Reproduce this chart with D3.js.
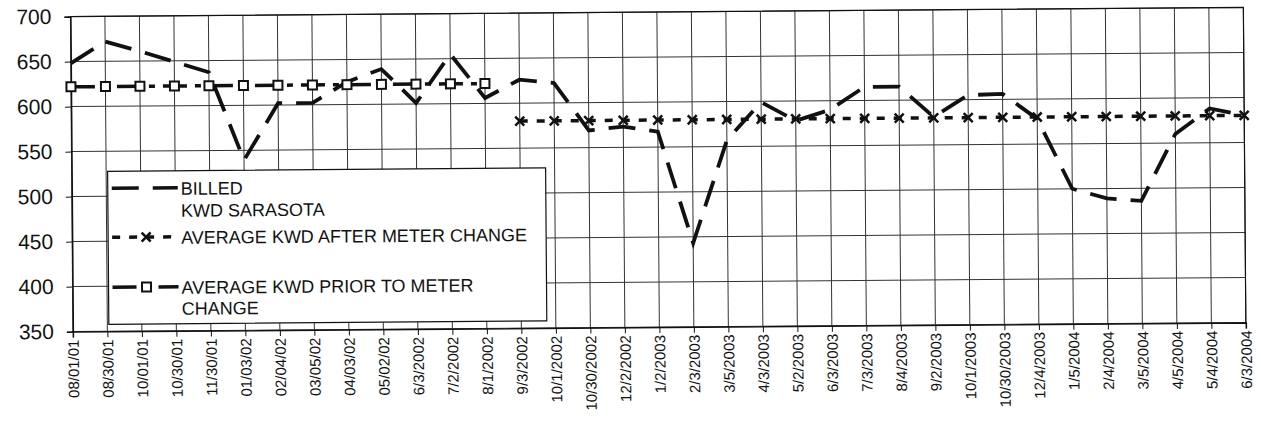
<!DOCTYPE html>
<html>
<head>
<meta charset="utf-8">
<script src="https://cdn.jsdelivr.net/npm/d3@7"></script>
<style>
  html, body { margin: 0; padding: 0; background: #fff; }
  svg { display: block; font-family: "Liberation Sans", Arial, sans-serif; }
</style>
</head>
<body>
<svg id="chart" width="1261" height="436"></svg>
<script>
// Billing dates (x categories)
const categories = [
  "08/01/01", "08/30/01", "10/01/01", "10/30/01", "11/30/01", "01/03/02",
  "02/04/02", "03/05/02", "04/03/02", "05/02/02", "6/3/2002", "7/2/2002",
  "8/1/2002", "9/3/2002", "10/1/2002", "10/30/2002", "12/2/2002", "1/2/2003",
  "2/3/2003", "3/5/2003", "4/3/2003", "5/2/2003", "6/3/2003", "7/3/2003",
  "8/4/2003", "9/2/2003", "10/1/2003", "10/30/2003", "12/4/2003", "1/5/2004",
  "2/4/2004", "3/5/2004", "4/5/2004", "5/4/2004", "6/3/2004"
];

// Billed KWD, Sarasota
const billedKwd = [
  648, 672, 661, 649, 637, 539, 602, 602, 625, 639, 601, 655,
  606, 626, 622, 569, 573, 567, 443, 557, 599, 578, 590, 615,
  615, 581, 605, 606, 578, 500, 489, 486, 560, 588, 580
];

// Average KWD after the meter change (from 9/3/2002 on)
const avgAfterChange = [
  null, null, null, null, null, null, null, null, null, null, null, null,
  null, 580, 580, 580, 580, 580, 580, 580, 580, 580, 580, 580,
  580, 580, 580, 580, 580, 580, 580, 580, 580, 580, 580
];

// Average KWD prior to the meter change (through 8/1/2002)
const avgPriorChange = [
  622, 622, 622, 622, 622, 622, 622, 622, 622, 622, 622, 622,
  622, null, null, null, null, null, null, null, null, null, null, null,
  null, null, null, null, null, null, null, null, null, null, null
];

const yTicks = [350, 400, 450, 500, 550, 600, 650, 700];

const legendLabels = [
  ["BILLED", "KWD SARASOTA"],
  ["AVERAGE KWD AFTER METER CHANGE"],
  ["AVERAGE KWD PRIOR TO METER", "CHANGE"]
];

const ink = "#111";
const billedDash = "27,14";
const afterDash = "8,9";
const priorDash = "24,8,6,8";

const svg = d3.select("#chart");
const g = svg.append("g").attr("transform", "rotate(-0.45 660 218)");

const plotLeft = 72, plotRight = 1245, plotTop = 12, plotBottom = 327;

const x = d3.scalePoint()
  .domain(d3.range(categories.length))
  .range([plotLeft, plotRight]);

const y = d3.scaleLinear()
  .domain([350, 700])
  .range([plotBottom, plotTop]);

// Gridlines
g.append("g")
  .selectAll("line")
  .data(yTicks)
  .join("line")
  .attr("x1", plotLeft).attr("x2", plotRight)
  .attr("y1", d => y(d)).attr("y2", d => y(d))
  .attr("stroke", "#333").attr("stroke-width", 1);

g.append("g")
  .selectAll("line")
  .data(d3.range(categories.length))
  .join("line")
  .attr("x1", d => x(d)).attr("x2", d => x(d))
  .attr("y1", plotTop).attr("y2", plotBottom)
  .attr("stroke", "#333").attr("stroke-width", 1);

// Axes
const yAxis = g.append("g")
  .attr("transform", `translate(${plotLeft},0)`)
  .call(d3.axisLeft(y).tickValues(yTicks).tickSize(6).tickPadding(13).tickFormat(d3.format("d")));
yAxis.select(".domain").attr("stroke", ink).attr("stroke-width", 1.5);
yAxis.selectAll(".tick line").attr("stroke", ink);
yAxis.selectAll(".tick text")
  .attr("font-size", 21)
  .attr("fill", ink)
  .attr("font-family", "Liberation Sans, Arial, sans-serif");

const xAxis = g.append("g")
  .attr("transform", `translate(0,${plotBottom})`)
  .call(d3.axisBottom(x).tickSize(6).tickFormat(i => categories[i]));
xAxis.select(".domain").attr("stroke", ink).attr("stroke-width", 1.5);
xAxis.selectAll(".tick line").attr("stroke", ink);
xAxis.selectAll(".tick text")
  .attr("font-size", 15)
  .attr("fill", ink)
  .attr("font-family", "Liberation Sans, Arial, sans-serif")
  .attr("text-anchor", "end")
  .attr("transform", "rotate(-90)")
  .attr("x", -8)
  .attr("y", 0)
  .attr("dy", "0.35em");

// Series lines
const line = d3.line()
  .defined(d => d != null)
  .x((d, i) => x(i))
  .y(d => y(d));

g.append("path")
  .datum(avgPriorChange)
  .attr("fill", "none")
  .attr("stroke", ink)
  .attr("stroke-width", 3.5)
  .attr("stroke-dasharray", priorDash)
  .attr("d", line);

g.append("path")
  .datum(avgAfterChange)
  .attr("fill", "none")
  .attr("stroke", ink)
  .attr("stroke-width", 3.5)
  .attr("stroke-dasharray", afterDash)
  .attr("d", line);

g.append("path")
  .datum(billedKwd)
  .attr("fill", "none")
  .attr("stroke", ink)
  .attr("stroke-width", 3.8)
  .attr("stroke-linejoin", "miter")
  .attr("stroke-dasharray", billedDash)
  .attr("d", line);

// Markers
function drawSquare(sel, cx, cy) {
  sel.append("rect")
    .attr("x", cx - 4.5).attr("y", cy - 4.5)
    .attr("width", 9).attr("height", 9)
    .attr("fill", "#fff").attr("stroke", ink).attr("stroke-width", 2);
}
function drawCross(sel, cx, cy) {
  const r = 4.5;
  sel.append("path")
    .attr("d", `M${cx - r},${cy - r}L${cx + r},${cy + r}M${cx - r},${cy + r}L${cx + r},${cy - r}`)
    .attr("stroke", ink).attr("stroke-width", 2.5).attr("fill", "none");
}

const priorMarks = g.append("g");
avgPriorChange.forEach((v, i) => { if (v != null) drawSquare(priorMarks, x(i), y(v)); });
const afterMarks = g.append("g");
avgAfterChange.forEach((v, i) => { if (v != null) drawCross(afterMarks, x(i), y(v)); });

// Plot border (top and right)
g.append("path")
  .attr("d", `M${plotLeft},${plotTop}H${plotRight}V${plotBottom}`)
  .attr("fill", "none").attr("stroke", ink).attr("stroke-width", 1.2);

// Legend
const legend = g.append("g");
legend.append("rect")
  .attr("x", 108).attr("y", 167).attr("width", 438).attr("height", 153)
  .attr("fill", "#fff").attr("stroke", ink).attr("stroke-width", 1.2);

const sampleX0 = 112, sampleX1 = 178, sampleMid = 146;
const rowBaselines = [[191, 213], [240], [290, 311]];
const sampleY = [184, 233, 283];
const sampleDash = [billedDash, afterDash, priorDash];

sampleY.forEach((sy, k) => {
  legend.append("line")
    .attr("x1", sampleX0).attr("x2", sampleX1)
    .attr("y1", sy).attr("y2", sy)
    .attr("stroke", ink).attr("stroke-width", 3.5)
    .attr("stroke-dasharray", sampleDash[k]);
});
drawCross(legend, sampleMid, sampleY[1]);
drawSquare(legend, sampleMid, sampleY[2]);

legendLabels.forEach((lines, k) => {
  lines.forEach((t, j) => {
    legend.append("text")
      .attr("x", 181)
      .attr("y", rowBaselines[k][j])
      .attr("font-size", 18)
      .attr("fill", ink)
      .text(t);
  });
});
</script>
</body>
</html>
